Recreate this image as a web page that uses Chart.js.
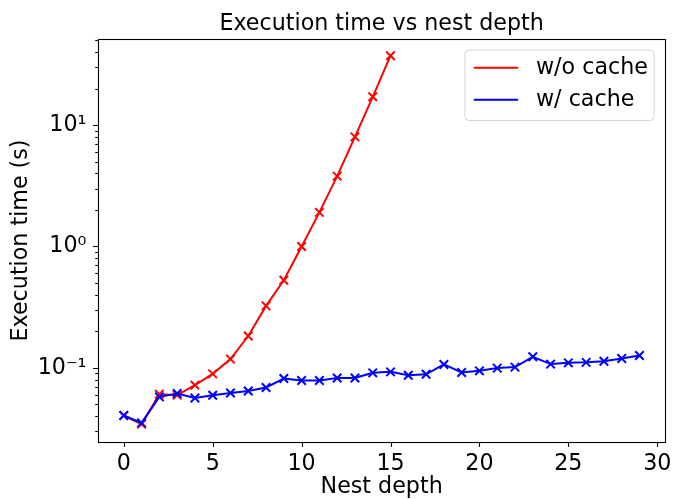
<!DOCTYPE html>
<html>
<head>
<meta charset="utf-8">
<script src="https://cdn.jsdelivr.net/npm/chart.js@4.4.0/dist/chart.umd.min.js"></script>
<style>
  html, body { margin: 0; padding: 0; background: #fff; }
  #wrap { width: 680px; height: 499px; }
</style>
</head>
<body>
<div id="wrap"><canvas id="chart" width="680" height="499"></canvas></div>
<script>
// --- data ---
const depthNoCache = [0, 1, 2, 3, 4, 5, 6, 7, 8, 9, 10, 11, 12, 13, 14, 15];
const timeNoCache = [0.0405, 0.0344, 0.0607, 0.0596, 0.072, 0.0892, 0.118, 0.183, 0.324, 0.527,
  1.0, 1.91, 3.80, 8.0, 17.1, 37.3];

const depthCache = [0, 1, 2, 3, 4, 5, 6, 7, 8, 9, 10, 11, 12, 13, 14,
  15, 16, 17, 18, 19, 20, 21, 22, 23, 24, 25, 26, 27, 28, 29];
const timeCache = [0.0405, 0.0352, 0.0577, 0.0615, 0.0565, 0.0594, 0.0621, 0.0645, 0.0689, 0.0817,
  0.0786, 0.0786, 0.0826, 0.0826, 0.091, 0.0927, 0.087, 0.0885, 0.1067, 0.0916,
  0.0945, 0.0995, 0.1014, 0.1233, 0.1074, 0.110, 0.111, 0.1135, 0.1194, 0.1265];

const xTickValues = [0, 5, 10, 15, 20, 25, 30];
const yMajorValues = [0.1, 1, 10];
const yMajorLabels = ['10\u207B\u00B9', '10\u2070', '10\u00B9'];

const FONT = 'DejaVu Sans';
const FONT_PX = 22.2;

// minor ticks of the log axis: 2..9 x 10^n
const yMinorValues = [];
for (let e = -2; e <= 1; e++) {
  for (let m = 2; m <= 9; m++) yMinorValues.push(m * Math.pow(10, e));
}

const toPoints = (xs, ys) => xs.map((x, i) => ({ x: x, y: ys[i] }));

// ticks, frame, title and legend drawn the matplotlib way
const mplDecor = {
  id: 'mplDecor',
  afterDraw(chart) {
    const { ctx, chartArea: a, scales } = chart;
    const xs = scales.x, ys = scales.y;
    ctx.save();
    ctx.strokeStyle = '#000';
    ctx.lineWidth = 1.1;

    // x ticks
    xTickValues.forEach(v => {
      const px = Math.round(xs.getPixelForValue(v)) + 0.5;
      ctx.beginPath();
      ctx.moveTo(px, a.bottom);
      ctx.lineTo(px, a.bottom + 4.9);
      ctx.stroke();
    });
    // y ticks
    yMajorValues.concat(yMinorValues).forEach(v => {
      if (v < ys.min || v > ys.max) return;
      const major = yMajorValues.includes(v);
      const py = Math.round(ys.getPixelForValue(v)) + 0.5;
      ctx.beginPath();
      ctx.moveTo(a.left, py);
      ctx.lineTo(a.left - (major ? 4.9 : 2.8), py);
      ctx.stroke();
    });

    // frame
    ctx.strokeRect(Math.round(a.left) + 0.5, Math.round(a.top) + 0.5,
      Math.round(a.right - a.left), Math.round(a.bottom - a.top));

    // title
    ctx.fillStyle = '#000';
    ctx.font = FONT_PX + 'px "' + FONT + '"';
    ctx.textAlign = 'center';
    ctx.textBaseline = 'alphabetic';
    ctx.fillText('Execution time vs nest depth', (a.left + a.right) / 2, 30);

    // legend
    const bw = 189.3, bh = 70.3;
    const bx = a.right - 11.1 - bw, by = a.top + 11.1;
    ctx.beginPath();
    ctx.roundRect(bx, by, bw, bh, 4);
    ctx.fillStyle = 'rgba(255,255,255,0.8)';
    ctx.fill();
    ctx.strokeStyle = 'rgba(204,204,204,0.8)';
    ctx.lineWidth = 1;
    ctx.stroke();
    ctx.textAlign = 'left';
    ctx.textBaseline = 'middle';
    chart.data.datasets.forEach((ds, i) => {
      const rowY = by + 17.7 + i * 32;
      ctx.strokeStyle = ds.borderColor;
      ctx.lineWidth = 2;
      ctx.beginPath();
      ctx.moveTo(bx + 8.9, rowY);
      ctx.lineTo(bx + 8.9 + 44.4, rowY);
      ctx.stroke();
      ctx.fillStyle = '#000';
      ctx.fillText(ds.label, bx + 71.1, rowY);
    });
    ctx.restore();
  }
};

const lineStyle = {
  fill: false,
  tension: 0,
  borderWidth: 2,
  pointStyle: 'crossRot',
  pointRadius: 6,
  pointBorderWidth: 2
};

new Chart(document.getElementById('chart'), {
  type: 'line',
  data: {
    datasets: [
      Object.assign({
        label: 'w/o cache',
        data: toPoints(depthNoCache, timeNoCache),
        borderColor: '#ff0000',
        backgroundColor: '#ff0000',
        order: 1
      }, lineStyle),
      Object.assign({
        label: 'w/ cache',
        data: toPoints(depthCache, timeCache),
        borderColor: '#0000ff',
        backgroundColor: '#0000ff',
        order: 0
      }, lineStyle)
    ]
  },
  options: {
    responsive: false,
    animation: false,
    devicePixelRatio: 1,
    events: [],
    layout: { padding: { left: 0, top: 39, right: 8.5, bottom: 0 } },
    plugins: {
      legend: { display: false },
      title: { display: false },
      tooltip: { enabled: false }
    },
    scales: {
      x: {
        type: 'linear',
        min: -1.45,
        max: 30.45,
        bounds: 'data',
        afterBuildTicks: s => { s.ticks = xTickValues.map(v => ({ value: v })); },
        afterFit: s => { s.height = 57; },
        border: { display: false },
        grid: { display: false, drawTicks: false },
        ticks: {
          autoSkip: false,
          maxRotation: 0,
          padding: 8.5,
          color: '#000',
          font: { family: FONT, size: FONT_PX },
          callback: v => String(v)
        },
        title: {
          display: true,
          text: 'Nest depth',
          color: '#000',
          font: { family: FONT, size: FONT_PX },
          padding: { top: 0, bottom: -2 }
        }
      },
      y: {
        type: 'logarithmic',
        min: 0.0245,
        max: 51.2,
        bounds: 'data',
        afterBuildTicks: s => {
          s.ticks = yMajorValues.concat(yMinorValues)
            .filter(v => v >= 0.0245 && v <= 51.2)
            .sort((p, q) => p - q)
            .map(v => ({ value: v }));
        },
        afterFit: s => { s.width = 98; },
        border: { display: false },
        grid: { display: false, drawTicks: false },
        ticks: {
          autoSkip: false,
          padding: 11.5,
          color: '#000',
          font: { family: FONT, size: FONT_PX },
          callback: v => {
            const k = yMajorValues.findIndex(m => Math.abs(m - v) / m < 1e-6);
            return k >= 0 ? yMajorLabels[k] : '';
          }
        },
        title: {
          display: true,
          text: 'Execution time (s)',
          color: '#000',
          font: { family: FONT, size: FONT_PX },
          padding: { top: 8, bottom: 0 }
        }
      }
    }
  },
  plugins: [mplDecor]
});
</script>
</body>
</html>
